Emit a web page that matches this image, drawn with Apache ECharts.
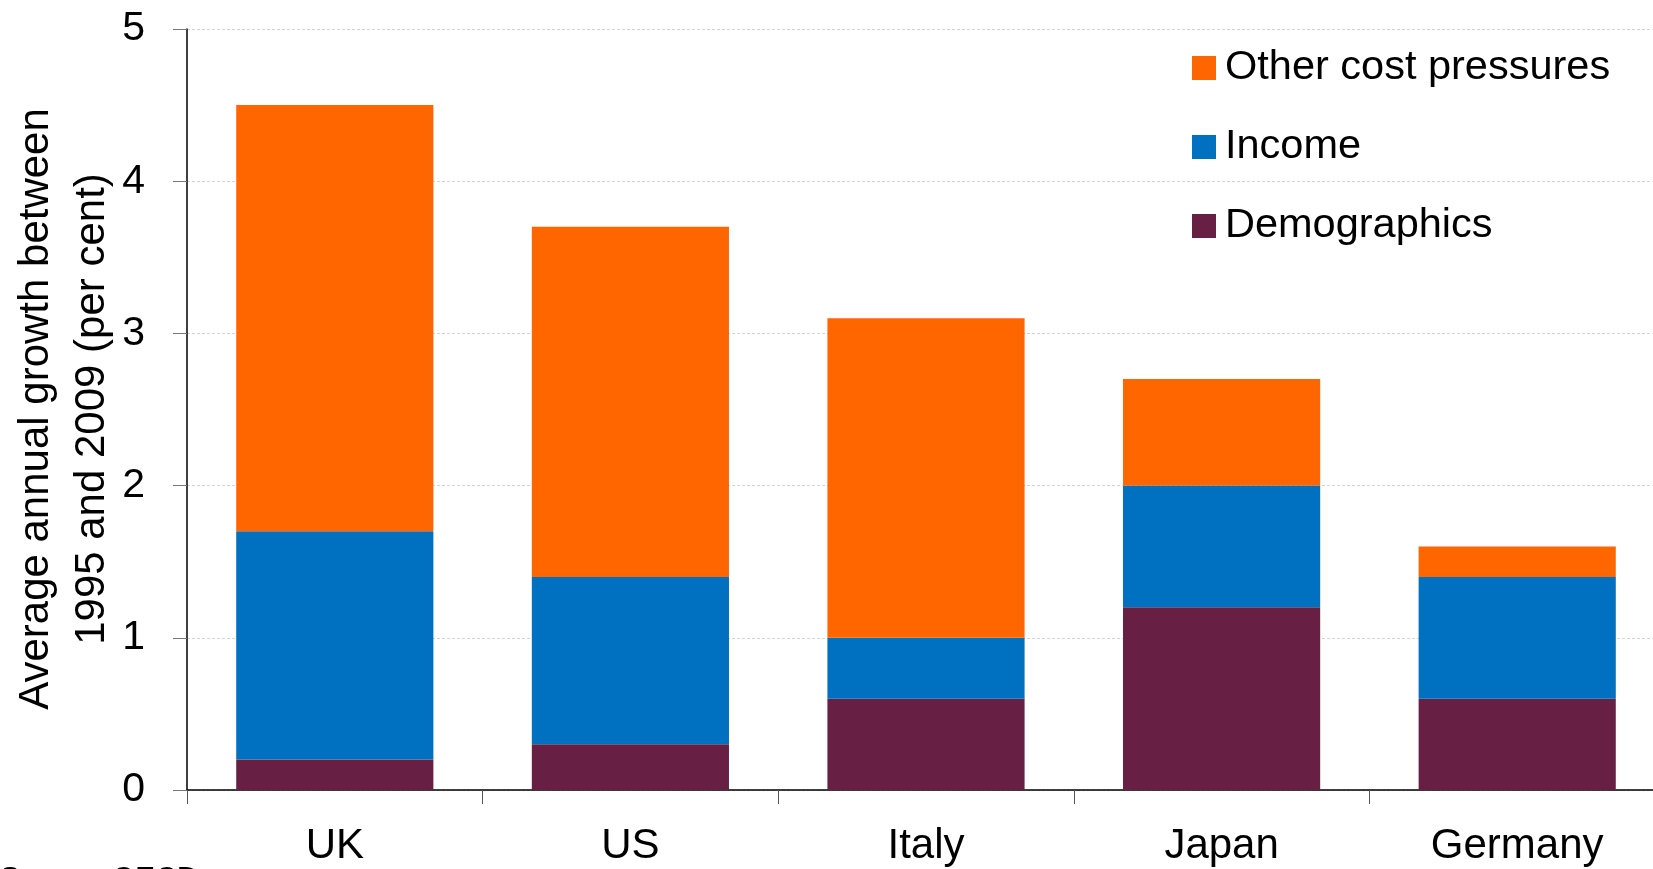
<!DOCTYPE html>
<html>
<head>
<meta charset="utf-8">
<script src="https://cdn.jsdelivr.net/npm/echarts@6/dist/echarts.min.js"></script>
<style>
html,body{margin:0;padding:0;background:#fff;}
#chart{width:1653px;height:869px;}
</style>
</head>
<body>
<div id="chart"></div>
<script>
const categories = ['UK', 'US', 'Italy', 'Japan', 'Germany'];
const demographics = [0.2, 0.3, 0.6, 1.2, 0.6];
const income = [1.5, 1.1, 0.4, 0.8, 0.8];
const otherCost = [2.8, 2.3, 2.1, 0.7, 0.2];
const seriesNames = ['Demographics', 'Income', 'Other cost pressures'];
const legendOrder = ['Other cost pressures', 'Income', 'Demographics'];
const yTicks = [0, 1, 2, 3, 4, 5];
const yTitle = 'Average annual growth between\n1995 and 2009 (per cent)';
const sourceNote = 'Source: OECD';

const FONT = '"Liberation Sans", Arial, sans-serif';
const colors = ['#672044', '#0070C0', '#FF6600'];

const chart = echarts.init(document.getElementById('chart'), null, {renderer: 'canvas'});
const values = [demographics, income, otherCost];

chart.setOption({
  animation: false,
  backgroundColor: '#ffffff',
  color: colors,
  grid: {left: 187, top: 29, bottom: 79, right: -12, containLabel: false, outerBoundsMode: 'none'},
  legend: {
    orient: 'vertical',
    left: 1187,
    top: 42,
    itemWidth: 24,
    itemHeight: 24,
    itemGap: 37,
    icon: 'rect',
    data: legendOrder,
    textStyle: {fontFamily: FONT, fontSize: 41.5, color: '#000', lineHeight: 42, padding: [0, 0, 0, 4]}
  },
  xAxis: {
    type: 'category',
    data: categories,
    boundaryGap: true,
    axisLine: {show: true, lineStyle: {color: '#000', width: 1.5}},
    axisTick: {show: true, length: 14, lineStyle: {color: '#555'}},
    axisLabel: {fontFamily: FONT, fontSize: 42, color: '#000', margin: 35}
  },
  yAxis: {
    type: 'value',
    min: yTicks[0],
    max: yTicks[yTicks.length - 1],
    interval: 1,
    axisLine: {show: true, lineStyle: {color: '#000', width: 1.5}},
    axisTick: {show: true, inside: false, length: 14, lineStyle: {color: '#777'}},
    axisLabel: {fontFamily: FONT, fontSize: 41, color: '#000', margin: 42},
    splitLine: {show: true, lineStyle: {color: '#d4d4d4', type: [3, 2], width: 1}}
  },
  graphic: [{
    type: 'text',
    x: 64,
    y: 409,
    rotation: Math.PI / 2,
    style: {text: yTitle, font: '42px ' + FONT, fill: '#000', align: 'center', verticalAlign: 'middle', lineHeight: 56}
  }, {
    type: 'text',
    left: 0,
    top: 864,
    style: {text: sourceNote, font: '30px ' + FONT, fill: '#000'}
  }],
  series: seriesNames.map((n, i) => ({
    name: n,
    type: 'bar',
    stack: 'total',
    barCategoryGap: '33.3%',
    data: values[i],
    itemStyle: {color: colors[i]}
  }))
});
</script>
</body>
</html>
